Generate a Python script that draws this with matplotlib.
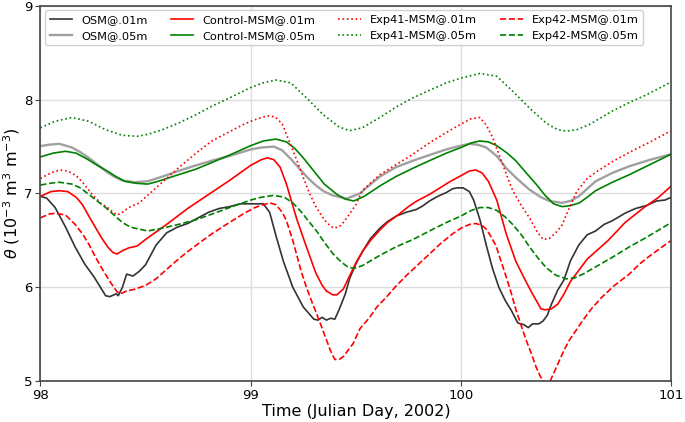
import matplotlib
matplotlib.use("Agg")
import matplotlib.pyplot as plt

# ---------------- data ----------------
osm01_x = [98.0, 98.03, 98.07, 98.12, 98.165, 98.21, 98.255, 98.28, 98.31, 98.33, 98.36, 98.37, 98.39, 98.41,
           98.44, 98.47, 98.50, 98.55, 98.60, 98.65, 98.70, 98.75, 98.80, 98.85, 98.90, 98.95, 99.0, 99.06,
           99.09, 99.12, 99.155, 99.2, 99.25, 99.30, 99.32, 99.34, 99.36, 99.38, 99.40, 99.42, 99.45, 99.47,
           99.50, 99.534, 99.57, 99.614, 99.65, 99.693, 99.74, 99.788, 99.82, 99.85, 99.89, 99.93, 99.96,
           99.98, 100.01, 100.04, 100.06, 100.09, 100.12, 100.15, 100.18, 100.21, 100.24, 100.27, 100.30,
           100.32, 100.34, 100.37, 100.39, 100.41, 100.43, 100.46, 100.49, 100.52, 100.56, 100.60, 100.64,
           100.68, 100.72, 100.78, 100.83, 100.88, 100.93, 100.97, 101.0]
osm01_y = [6.97, 6.95, 6.85, 6.64, 6.43, 6.25, 6.11, 6.02, 5.91, 5.90, 5.93, 5.91, 6.00, 6.14,
           6.12, 6.17, 6.24, 6.45, 6.58, 6.64, 6.68, 6.74, 6.80, 6.84, 6.86, 6.89, 6.89, 6.89,
           6.80, 6.55, 6.28, 6.00, 5.79, 5.66, 5.65, 5.68, 5.65, 5.67, 5.66, 5.76, 5.93, 6.09,
           6.25, 6.39, 6.52, 6.63, 6.70, 6.76, 6.80, 6.83, 6.87, 6.92, 6.97, 7.01, 7.05,
           7.06, 7.06, 7.02, 6.93, 6.72, 6.45, 6.20, 6.00, 5.86, 5.75, 5.62, 5.60,
           5.57, 5.61, 5.61, 5.64, 5.70, 5.82, 5.97, 6.08, 6.28, 6.45, 6.56, 6.60,
           6.67, 6.71, 6.79, 6.84, 6.87, 6.92, 6.93, 6.96]

osm05_x = [98.0, 98.04, 98.09, 98.15, 98.19, 98.23, 98.27, 98.31, 98.35, 98.39, 98.45, 98.51, 98.58, 98.656,
           98.74, 98.815, 98.90, 99.0, 99.05, 99.11, 99.15, 99.19, 99.234, 99.27, 99.313, 99.35, 99.39,
           99.455, 99.52, 99.56, 99.614, 99.69, 99.772, 99.85, 99.93, 100.0, 100.04, 100.08, 100.12, 100.17,
           100.215, 100.27, 100.326, 100.38, 100.42, 100.48, 100.52, 100.56, 100.60, 100.64, 100.72, 100.80,
           100.90, 101.0]
osm05_y = [7.505, 7.52, 7.53, 7.49, 7.44, 7.38, 7.31, 7.24, 7.18, 7.14, 7.12, 7.13, 7.18, 7.24,
           7.30, 7.35, 7.40, 7.47, 7.49, 7.50, 7.46, 7.37, 7.26, 7.17, 7.08, 7.02, 6.98,
           6.945, 7.00, 7.08, 7.18, 7.28, 7.35, 7.41, 7.47, 7.51, 7.53, 7.52, 7.49, 7.40,
           7.27, 7.15, 7.04, 6.96, 6.92, 6.90, 6.92, 6.97, 7.05, 7.13, 7.22, 7.29,
           7.36, 7.42]

ctl01_x = [98.0, 98.05, 98.09, 98.13, 98.17, 98.20, 98.24, 98.29, 98.32, 98.345, 98.365, 98.39, 98.42, 98.46,
           98.50, 98.55, 98.60, 98.70, 98.80, 98.90, 99.0, 99.05, 99.08, 99.11, 99.14, 99.17, 99.20, 99.22,
           99.265, 99.31, 99.34, 99.36, 99.39, 99.41, 99.44, 99.47, 99.50, 99.534, 99.57, 99.614, 99.65,
           99.70, 99.75, 99.79, 99.85, 99.90, 99.95, 100.0, 100.04, 100.07, 100.10, 100.13, 100.17, 100.215,
           100.26, 100.30, 100.33, 100.36, 100.38, 100.40, 100.43, 100.46, 100.49, 100.52, 100.56, 100.60,
           100.64, 100.70, 100.78, 100.87, 100.94, 101.0]
ctl01_y = [6.97, 7.02, 7.03, 7.02, 6.96, 6.88, 6.72, 6.53, 6.43, 6.37, 6.355, 6.39, 6.42, 6.44,
           6.51, 6.59, 6.67, 6.84, 6.99, 7.14, 7.30, 7.36, 7.38, 7.36, 7.28, 7.10, 6.87, 6.72,
           6.43, 6.15, 6.02, 5.96, 5.92, 5.92, 5.98, 6.12, 6.26, 6.39, 6.50, 6.61, 6.69,
           6.77, 6.86, 6.92, 6.99, 7.06, 7.13, 7.19, 7.24, 7.25, 7.22, 7.13, 6.93, 6.57,
           6.28, 6.10, 5.97, 5.85, 5.77, 5.76, 5.77, 5.82, 5.93, 6.06, 6.18, 6.30,
           6.38, 6.50, 6.69, 6.85, 6.96, 7.08]

ctl05_x = [98.0, 98.06, 98.12, 98.17, 98.22, 98.27, 98.31, 98.36, 98.40, 98.45, 98.51, 98.56, 98.656, 98.74,
           98.815, 98.90, 99.0, 99.06, 99.12, 99.17, 99.21, 99.25, 99.30, 99.35, 99.41, 99.45, 99.49, 99.54,
           99.614, 99.69, 99.772, 99.85, 99.93, 100.0, 100.05, 100.09, 100.13, 100.17, 100.22, 100.26,
           100.31, 100.357, 100.40, 100.44, 100.48, 100.52, 100.563, 100.60, 100.64, 100.72, 100.80, 100.90,
           101.0]
ctl05_y = [7.39, 7.43, 7.45, 7.43, 7.37, 7.30, 7.25, 7.18, 7.13, 7.11, 7.10, 7.13, 7.20, 7.26,
           7.33, 7.41, 7.51, 7.56, 7.58, 7.55, 7.48, 7.38, 7.24, 7.10, 6.99, 6.94, 6.92, 6.97,
           7.08, 7.18, 7.27, 7.35, 7.43, 7.49, 7.54, 7.56, 7.55, 7.51, 7.43, 7.35,
           7.22, 7.10, 6.98, 6.89, 6.86, 6.87, 6.90, 6.96, 7.03, 7.12, 7.20, 7.31,
           7.42]

e41_01_x = [98.0, 98.05, 98.09, 98.13, 98.17, 98.20, 98.25, 98.29, 98.32, 98.345, 98.365, 98.39, 98.42, 98.47,
            98.51, 98.55, 98.60, 98.66, 98.74, 98.815, 98.90, 98.96, 99.0, 99.05, 99.09, 99.12, 99.15, 99.19,
            99.22, 99.25, 99.28, 99.31, 99.35, 99.38, 99.40, 99.43, 99.46, 99.50, 99.53, 99.614, 99.70,
            99.772, 99.85, 99.93, 100.0, 100.05, 100.09, 100.12, 100.15, 100.19, 100.22, 100.246, 100.29,
            100.326, 100.36, 100.39, 100.42, 100.45, 100.48, 100.51, 100.55, 100.60, 100.65, 100.72, 100.81,
            100.90, 101.0]
e41_01_y = [7.16, 7.22, 7.25, 7.24, 7.19, 7.12, 6.98, 6.89, 6.85, 6.80, 6.77, 6.80, 6.85, 6.90,
            6.98, 7.06, 7.16, 7.28, 7.43, 7.56, 7.66, 7.73, 7.77, 7.81, 7.83, 7.81, 7.74, 7.52,
            7.35, 7.17, 7.00, 6.86, 6.72, 6.65, 6.63, 6.66, 6.75, 6.88, 7.03, 7.20, 7.32,
            7.42, 7.54, 7.65, 7.74, 7.80, 7.81, 7.73, 7.60, 7.36, 7.18, 7.03, 6.86,
            6.74, 6.60, 6.51, 6.52, 6.58, 6.66, 6.82, 7.02, 7.16, 7.24, 7.34, 7.45,
            7.55, 7.67]

e41_05_x = [98.0, 98.07, 98.15, 98.23, 98.31, 98.39, 98.46, 98.51, 98.58, 98.656, 98.74, 98.815, 98.90, 99.0,
            99.06, 99.12, 99.19, 99.265, 99.345, 99.42, 99.47, 99.53, 99.614, 99.69, 99.772, 99.85, 99.93,
            100.0, 100.09, 100.17, 100.246, 100.326, 100.405, 100.46, 100.50, 100.55, 100.61, 100.72, 100.80,
            100.88, 100.94, 101.0]
e41_05_y = [7.70, 7.77, 7.81, 7.77, 7.68, 7.62, 7.61, 7.63, 7.68, 7.75, 7.84, 7.93, 8.02, 8.13,
            8.18, 8.21, 8.18, 8.02, 7.84, 7.71, 7.67, 7.70, 7.81, 7.92, 8.02, 8.10, 8.18,
            8.23, 8.28, 8.25, 8.09, 7.91, 7.75, 7.68, 7.665, 7.68, 7.735, 7.88, 7.97,
            8.05, 8.12, 8.19]

e42_01_x = [98.0, 98.04, 98.07, 98.12, 98.165, 98.20, 98.23, 98.26, 98.29, 98.32, 98.34, 98.365, 98.38, 98.41,
            98.45, 98.50, 98.55, 98.60, 98.656, 98.70, 98.76, 98.815, 98.87, 98.92, 98.97, 99.02, 99.06,
            99.09, 99.12, 99.15, 99.17, 99.20, 99.217, 99.24, 99.265, 99.29, 99.313, 99.34, 99.36, 99.38,
            99.40, 99.42, 99.44, 99.46, 99.487, 99.52, 99.566, 99.60, 99.645, 99.69, 99.74, 99.80, 99.85,
            99.90, 99.96, 100.0, 100.04, 100.07, 100.10, 100.12, 100.14, 100.167, 100.19, 100.215, 100.24,
            100.262, 100.285, 100.31, 100.335, 100.357, 100.375, 100.39, 100.42, 100.44, 100.468, 100.49,
            100.515, 100.55, 100.58, 100.62, 100.67, 100.73, 100.80, 100.85, 100.895, 100.95, 101.0]
e42_01_y = [6.74, 6.78, 6.79, 6.77, 6.67, 6.57, 6.46, 6.33, 6.21, 6.10, 6.03, 5.95, 5.93, 5.96,
            5.98, 6.02, 6.09, 6.19, 6.30, 6.38, 6.48, 6.57, 6.65, 6.72, 6.79, 6.85, 6.88,
            6.90, 6.88, 6.80, 6.71, 6.50, 6.36, 6.17, 6.00, 5.85, 5.72, 5.56, 5.44, 5.32,
            5.23, 5.23, 5.26, 5.32, 5.40, 5.56, 5.68, 5.79, 5.895, 6.01, 6.125, 6.25, 6.355,
            6.46, 6.57, 6.63, 6.67, 6.68, 6.66, 6.62, 6.55, 6.44, 6.28, 6.11, 5.93,
            5.755, 5.60, 5.435, 5.29, 5.15, 5.06, 5.0, 4.98, 5.08, 5.22, 5.33,
            5.435, 5.55, 5.65, 5.77, 5.895, 6.02, 6.14, 6.25, 6.33, 6.42, 6.50]

e42_05_x = [98.0, 98.05, 98.09, 98.15, 98.19, 98.23, 98.27, 98.31, 98.35, 98.39, 98.43, 98.47, 98.51, 98.58,
            98.656, 98.74, 98.815, 98.90, 99.0, 99.05, 99.11, 99.16, 99.20, 99.234, 99.27, 99.313, 99.35,
            99.39, 99.43, 99.46, 99.49, 99.53, 99.614, 99.69, 99.772, 99.85, 99.93, 100.0, 100.05, 100.09,
            100.13, 100.17, 100.21, 100.246, 100.29, 100.326, 100.37, 100.405, 100.45, 100.50, 100.54,
            100.58, 100.65, 100.72, 100.80, 100.88, 100.94, 101.0]
e42_05_y = [7.09, 7.11, 7.12, 7.10, 7.06, 6.99, 6.92, 6.85, 6.77, 6.69, 6.64, 6.62, 6.60, 6.63,
            6.67, 6.72, 6.78, 6.85, 6.93, 6.96, 6.98, 6.96, 6.90, 6.82, 6.72, 6.60, 6.48,
            6.36, 6.27, 6.22, 6.20, 6.23, 6.34, 6.43, 6.51, 6.60, 6.69, 6.76, 6.82, 6.85,
            6.85, 6.82, 6.75, 6.67, 6.55, 6.43, 6.30, 6.21, 6.13, 6.09, 6.10,
            6.14, 6.23, 6.32, 6.43, 6.53, 6.61, 6.69]

x_ticks = [98, 99, 100, 101]
y_ticks = [5, 6, 7, 8, 9]

# ---------------- plot ----------------
fig = plt.figure(figsize=(6.85, 4.22), dpi=100)
ax = fig.add_axes([0.059, 0.097, 0.921, 0.889])

lw = 1.2
ax.plot(osm01_x, osm01_y, color='#333333', lw=lw, label='OSM@.01m')
ax.plot(osm05_x, osm05_y, color='#a0a0a0', lw=1.7, label='OSM@.05m')
ax.plot(ctl01_x, ctl01_y, color='red', lw=lw, label='Control-MSM@.01m')
ax.plot(ctl05_x, ctl05_y, color='green', lw=lw, label='Control-MSM@.05m')
ax.plot(e41_01_x, e41_01_y, color='red', lw=lw, ls=':', label='Exp41-MSM@.01m')
ax.plot(e41_05_x, e41_05_y, color='green', lw=lw, ls=':', label='Exp41-MSM@.05m')
ax.plot(e42_01_x, e42_01_y, color='red', lw=lw, ls='--', label='Exp42-MSM@.01m')
ax.plot(e42_05_x, e42_05_y, color='green', lw=lw, ls='--', label='Exp42-MSM@.05m')

ax.set_xlim(98, 101)
ax.set_ylim(5, 9)
ax.set_xticks(x_ticks)
ax.set_yticks(y_ticks)
ax.tick_params(labelsize=9.5, length=3.5, pad=2.5, color='#444444')
ax.grid(True, color='#dddddd', lw=1)
ax.set_axisbelow(True)
for s in ax.spines.values():
    s.set_color('#444444')
    s.set_linewidth(1.2)

ax.set_xlabel('Time (Julian Day, 2002)', fontsize=11.5, labelpad=1)
ax.set_ylabel(r'$\theta$ (10$^{-3}$ m$^{3}$ m$^{-3}$)', fontsize=11.5, labelpad=1)

ax.legend(loc='upper left', ncol=4, fontsize=8.2, frameon=True, framealpha=0.9,
          edgecolor='#cccccc', borderaxespad=0.4)

fig.savefig('out.png', dpi=100)
